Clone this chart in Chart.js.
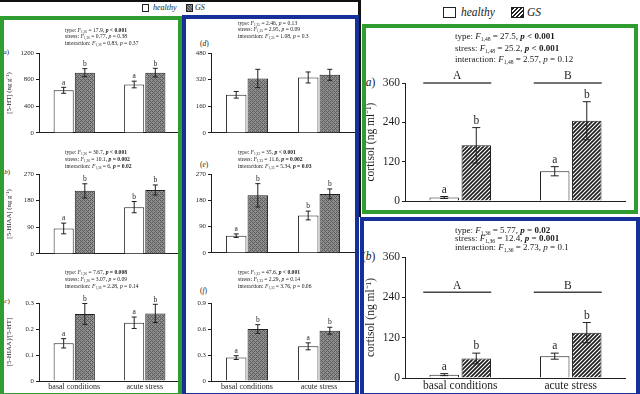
<!DOCTYPE html>
<html>
<head>
<meta charset="utf-8">
<script src="https://cdn.jsdelivr.net/npm/chart.js@4.4.0/dist/chart.umd.min.js"></script>
<style>
  html, body { margin: 0; padding: 0; background: #fff; }
  #fig { position: relative; width: 640px; height: 394px; overflow: hidden; background: #fff;
         font-family: 'Liberation Serif', serif; color: #1a1a1a; }
  .box { position: absolute; box-sizing: border-box; z-index: 3; pointer-events: none; }
  .green { border: 4px solid #2f9d2f; }
  .blue { border: 4px solid #16309a; }
  canvas { position: absolute; z-index: 2; }
  .stats { position: absolute; white-space: nowrap; z-index: 4; }
  .stats sub { font-size: 0.62em; vertical-align: -0.35em; line-height: 0; }
  .lbl { position: absolute; white-space: nowrap; z-index: 1; line-height: 1; }
  .sw { position: absolute; box-sizing: border-box; border: 1px solid #222; }
</style>
</head>
<body>
<div id="fig">
  <div class="box" style="left:0;top:0;width:360px;height:2px;background:#111;"></div>
  <div class="box" style="left:358px;top:0;width:3px;height:217px;background:#111;"></div>
  <div class="box green" style="left:0;top:16px;width:182px;height:381px;"></div>
  <div class="box blue" style="left:182px;top:15px;width:177px;height:382px;"></div>
  <div class="box green" style="left:362px;top:24px;width:276px;height:190px;"></div>
  <div class="box blue" style="left:360px;top:217px;width:280px;height:180px;"></div>

  <!-- legends -->
  <div class="sw" style="left:142px;top:4px;width:7px;height:8px;background:#fff;"></div>
  <div class="lbl" style="left:153px;top:4px;font-size:8px;font-style:italic;">healthy</div>
  <div class="sw" style="left:186px;top:4px;width:7px;height:8px;background:repeating-linear-gradient(45deg,#5e5e5e 0 1px,#9a9a9a 1px 2px);"></div>
  <div class="lbl" style="left:195px;top:4px;font-size:8px;font-style:italic;">GS</div>

  <div class="sw" style="left:443px;top:7px;width:13px;height:11px;background:#fff;"></div>
  <div class="lbl" style="left:461px;top:7px;font-size:11.5px;font-style:italic;">healthy</div>
  <div class="sw" style="left:511px;top:7px;width:13px;height:11px;background:repeating-linear-gradient(135deg,#222 0 1.5px,#fff 1.5px 3px);"></div>
  <div class="lbl" style="left:527px;top:7px;font-size:11.5px;font-style:italic;">GS</div>

  <!-- statistics -->
  <div class="stats" style="left:65px;top:26.6px;font-size:5.6px;line-height:6.7px;">type: <i>F</i><sub>1,36</sub> = 17.9, <b><i>p</i> &lt; 0.001</b><br>stress: <i>F</i><sub>1,36</sub> = 0.77, <i>p</i> = 0.38<br>interaction: <i>F</i><sub>1,36</sub> = 0.83, <i>p</i> = 0.37</div>
  <div class="stats" style="left:65px;top:149.3px;font-size:5.6px;line-height:6.7px;">type: <i>F</i><sub>1,36</sub> = 30.7, <b><i>p</i> &lt; 0.001</b><br>stress: <i>F</i><sub>1,36</sub> = 10.1, <b><i>p</i> = 0.002</b><br>interaction: <i>F</i><sub>1,36</sub> = 6, <b><i>p</i> = 0.02</b></div>
  <div class="stats" style="left:65px;top:269.3px;font-size:5.6px;line-height:6.7px;">type: <i>F</i><sub>1,36</sub> = 7.67, <b><i>p</i> = 0.008</b><br>stress: <i>F</i><sub>1,36</sub> = 3.07, <i>p</i> = 0.09<br>interaction: <i>F</i><sub>1,36</sub> = 2.28, <i>p</i> = 0.14</div>
  <div class="stats" style="left:238px;top:19.5px;font-size:5.6px;line-height:6.7px;">type: <i>F</i><sub>1,35</sub> = 2.46, <i>p</i> = 0.13<br>stress: <i>F</i><sub>1,35</sub> = 2.95, <i>p</i> = 0.09<br>interaction: <i>F</i><sub>1,35</sub> = 1.08, <i>p</i> = 0.3</div>
  <div class="stats" style="left:238px;top:149.3px;font-size:5.6px;line-height:6.7px;">type: <i>F</i><sub>1,33</sub> = 35, <b><i>p</i> &lt; 0.001</b><br>stress: <i>F</i><sub>1,33</sub> = 11.6, <b><i>p</i> = 0.002</b><br>interaction: <i>F</i><sub>1,33</sub> = 5.34, <b><i>p</i> = 0.03</b></div>
  <div class="stats" style="left:238px;top:269.3px;font-size:5.6px;line-height:6.7px;">type: <i>F</i><sub>1,33</sub> = 47.6, <b><i>p</i> &lt; 0.001</b><br>stress: <i>F</i><sub>1,33</sub> = 2.29, <i>p</i> = 0.14<br>interaction: <i>F</i><sub>1,33</sub> = 3.76, <i>p</i> = 0.06</div>
  <div class="stats" style="left:455px;top:31px;font-size:9px;line-height:11.5px;">type: <i>F</i><sub>1,48</sub> = 27.5, <b><i>p</i> &lt; 0.001</b><br>stress: <i>F</i><sub>1,48</sub> = 25.2, <b><i>p</i> &lt; 0.001</b><br>interaction: <i>F</i><sub>1,48</sub> = 2.57, <i>p</i> = 0.12</div>
  <div class="stats" style="left:455px;top:225.8px;font-size:9px;line-height:8.4px;">type: <i>F</i><sub>1,36</sub> = 5.77, <b><i>p</i> = 0.02</b><br>stress: <i>F</i><sub>1,36</sub> = 12.4, <b><i>p</i> = 0.001</b><br>interaction: <i>F</i><sub>1,36</sub> = 2.73, <i>p</i> = 0.1</div>

  <!-- panel letters -->
  <div class="lbl" style="left:1px;top:49px;font-size:7px;">(<i>a</i>)</div>
  <div class="lbl" style="left:2px;top:169px;font-size:7px;">(<i>b</i>)</div>
  <div class="lbl" style="left:2px;top:298px;font-size:7px;">(<i>c</i>)</div>
  <div class="lbl" style="left:200px;top:40px;font-size:7.5px;">(<i>d</i>)</div>
  <div class="lbl" style="left:200px;top:161px;font-size:7.5px;">(<i>e</i>)</div>
  <div class="lbl" style="left:200px;top:287px;font-size:7.5px;">(<i>f</i>)</div>
  <div class="lbl" style="left:362px;top:77px;font-size:11.5px;">(<i>a</i>)</div>
  <div class="lbl" style="left:362px;top:251px;font-size:11.5px;">(<i>b</i>)</div>

  <canvas id="cA"></canvas>
  <canvas id="cB"></canvas>
  <canvas id="cC"></canvas>
  <canvas id="cD"></canvas>
  <canvas id="cE"></canvas>
  <canvas id="cF"></canvas>
  <canvas id="cRA"></canvas>
  <canvas id="cRB"></canvas>
</div>

<script>
const groups = ['basal conditions', 'acute stress'];

// brain serotonin, left (green) column
const htHealthy = [640, 727];
const htHealthyErr = [45, 50];
const htGS = [905, 905];
const htGSErr = [60, 65];

const hiaaHealthy = [86, 158];
const hiaaHealthyErr = [18, 19];
const hiaaGS = [213, 216];
const hiaaGSErr = [24, 17];

const ratioHealthy = [0.145, 0.224];
const ratioHealthyErr = [0.018, 0.022];
const ratioGS = [0.258, 0.26];
const ratioGSErr = [0.04, 0.035];

// second region, middle (blue) column
const dHealthy = [229, 333];
const dHealthyErr = [20, 33];
const dGS = [327, 349];
const dGSErr = [55, 33];

const eHealthy = [59, 128];
const eHealthyErr = [6, 15];
const eGS = [197, 202];
const eGSErr = [40, 17];

const fHealthy = [0.27, 0.4];
const fHealthyErr = [0.022, 0.04];
const fGS = [0.6, 0.58];
const fGSErr = [0.05, 0.04];

// plasma cortisol, right column
const cortAHealthy = [11, 91];
const cortAHealthyErr = [3, 14];
const cortAGS = [170, 245];
const cortAGSErr = [54, 58];

const cortBHealthy = [10, 65];
const cortBHealthyErr = [3, 9];
const cortBGS = [58, 135];
const cortBGSErr = [16, 30];

const letters4 = [['a', 'a'], ['b', 'b']];
const lettersAB = [['a', 'b'], ['b', 'b']];
const noLetters = [['', ''], ['', '']];
const stressGroups = ['A', 'B'];
const stressLevelA = 360;
const stressLevelB = 255;

const ink = '#1f1f1f';
const serif = 'Liberation Serif';

function grayHatch() {
  const c = document.createElement('canvas');
  c.width = c.height = 4;
  const g = c.getContext('2d');
  g.fillStyle = '#8e8e8e';
  g.fillRect(0, 0, 4, 4);
  g.fillStyle = '#5c5c5c';
  [[0, 0], [2, 2], [1, 3], [3, 1], [2, 0], [0, 2]].forEach(([x, y]) => g.fillRect(x, y, 1, 1));
  return g.createPattern(c, 'repeat');
}

function lineHatch() {
  const c = document.createElement('canvas');
  c.width = c.height = 4;
  const g = c.getContext('2d');
  g.fillStyle = '#fff';
  g.fillRect(0, 0, 4, 4);
  g.strokeStyle = '#1e1e1e';
  g.lineWidth = 1.7;
  g.beginPath();
  g.moveTo(-1, 5); g.lineTo(5, -1);
  g.moveTo(-1, 1); g.lineTo(1, -1);
  g.moveTo(3, 5); g.lineTo(5, 3);
  g.stroke();
  return g.createPattern(c, 'repeat');
}

// error bars, significance letters and the A / B group marks
const errorBars = {
  id: 'errorBars',
  afterDatasetsDraw(chart, args, opts) {
    const { ctx, scales: { x, y } } = chart;
    ctx.save();
    ctx.strokeStyle = ink;
    ctx.fillStyle = ink;
    ctx.lineWidth = 1;
    ctx.textAlign = 'center';
    ctx.textBaseline = 'bottom';
    ctx.font = `${opts.letterSize}px ${serif}`;
    chart.data.datasets.forEach((ds, i) => {
      chart.getDatasetMeta(i).data.forEach((bar, j) => {
        const v = ds.data[j];
        const e = ds.errors[j];
        const top = y.getPixelForValue(v + e);
        const bot = y.getPixelForValue(Math.max(v - e, 0));
        ctx.beginPath();
        ctx.moveTo(bar.x, top); ctx.lineTo(bar.x, bot);
        ctx.moveTo(bar.x - opts.cap, top); ctx.lineTo(bar.x + opts.cap, top);
        ctx.moveTo(bar.x - opts.cap, bot); ctx.lineTo(bar.x + opts.cap, bot);
        ctx.stroke();
        if (ds.letters[j]) ctx.fillText(ds.letters[j], bar.x, top - 1);
      });
    });
    if (opts.marks) {
      ctx.lineWidth = 1.6;
      ctx.strokeStyle = '#444';
      const ly = y.getPixelForValue(opts.marks.level);
      opts.marks.labels.forEach((t, j) => {
        const cx = x.getPixelForValue(j);
        ctx.beginPath();
        ctx.moveTo(cx - 37, ly); ctx.lineTo(cx + 31, ly);
        ctx.stroke();
        ctx.fillText(t, cx - 3, ly - 1);
      });
    }
    ctx.restore();
  },
};

function panel(id, place, p) {
  const canvas = document.getElementById(id);
  canvas.width = place.w;
  canvas.height = place.h;
  canvas.style.left = place.x + 'px';
  canvas.style.top = place.y + 'px';
  const tickFont = { family: serif, size: p.fontSize };
  return new Chart(canvas, {
    type: 'bar',
    data: {
      labels: groups,
      datasets: [
        { label: 'healthy', data: p.healthy, errors: p.healthyErr, letters: p.letters[0],
          backgroundColor: '#fff', borderColor: ink, borderWidth: 1 },
        { label: 'GS', data: p.gs, errors: p.gsErr, letters: p.letters[1],
          backgroundColor: p.fill, borderColor: ink, borderWidth: 1 },
      ],
    },
    options: {
      responsive: false,
      animation: false,
      categoryPercentage: p.catPct,
      barPercentage: p.barPct,
      layout: { padding: { top: place.padTop, right: 0, bottom: 0, left: 0 } },
      plugins: {
        legend: { display: false },
        tooltip: { enabled: false },
        errorBars: { cap: p.cap, letterSize: p.letterSize, marks: p.marks },
      },
      scales: {
        x: {
          grid: { display: false, drawTicks: false },
          border: { display: true, color: ink, width: 1 },
          ticks: { display: !!p.showX, font: { family: serif, size: p.xFontSize }, color: ink,
                   padding: p.xPad, maxRotation: 0, autoSkip: false },
          afterFit: (s) => { s.height = place.xHeight; },
        },
        y: {
          min: 0,
          max: p.max,
          ticks: { stepSize: p.step, font: tickFont, color: ink, padding: 2,
                   callback: (v) => String(Math.round(v * 100) / 100) },
          grid: { drawOnChartArea: false, drawTicks: true, tickLength: 3, color: ink },
          border: { color: ink, width: 1 },
          title: { display: !!p.yTitle, text: p.yTitle, font: { family: serif, size: p.titleSize || p.fontSize },
                   color: ink, padding: { top: 1, bottom: 0 } },
          afterFit: (s) => { s.width = place.yWidth; },
        },
      },
    },
    plugins: [errorBars],
  });
}

const gray = grayHatch();
const lines = lineHatch();
const small = { fontSize: 6.8, xFontSize: 8, letterSize: 7.5, cap: 2.5, catPct: 0.6, barPct: 0.95, fill: gray, xPad: 1 };
const big = { fontSize: 11.5, xFontSize: 11.5, letterSize: 11.5, cap: 4, catPct: 0.58, barPct: 0.92, fill: lines, xPad: 1 };

panel('cA', { x: 4, y: 41, w: 176, h: 98, yWidth: 35, padTop: 12, xHeight: 4 },
  { ...small, healthy: htHealthy, healthyErr: htHealthyErr, gs: htGS, gsErr: htGSErr, letters: letters4,
    max: 1200, step: 400, yTitle: '[5-HT] (ng g⁻¹)' });
panel('cB', { x: 4, y: 162, w: 176, h: 98, yWidth: 35, padTop: 12, xHeight: 4 },
  { ...small, healthy: hiaaHealthy, healthyErr: hiaaHealthyErr, gs: hiaaGS, gsErr: hiaaGSErr, letters: lettersAB,
    max: 270, step: 90, yTitle: '[5-HIAA] (ng g⁻¹)' });
panel('cC', { x: 4, y: 291, w: 176, h: 102, yWidth: 35, padTop: 12, xHeight: 12 },
  { ...small, healthy: ratioHealthy, healthyErr: ratioHealthyErr, gs: ratioGS, gsErr: ratioGSErr, letters: letters4,
    max: 0.3, step: 0.1, yTitle: '[5-HIAA]/[5-HT]', showX: true });
panel('cD', { x: 186, y: 41, w: 169, h: 98, yWidth: 25, padTop: 12, xHeight: 4 },
  { ...small, healthy: dHealthy, healthyErr: dHealthyErr, gs: dGS, gsErr: dGSErr, letters: noLetters,
    max: 480, step: 160 });
panel('cE', { x: 186, y: 162, w: 169, h: 97, yWidth: 25, padTop: 12, xHeight: 4 },
  { ...small, healthy: eHealthy, healthyErr: eHealthyErr, gs: eGS, gsErr: eGSErr, letters: lettersAB,
    max: 270, step: 90 });
panel('cF', { x: 186, y: 291, w: 169, h: 102, yWidth: 25, padTop: 12, xHeight: 12 },
  { ...small, healthy: fHealthy, healthyErr: fHealthyErr, gs: fGS, gsErr: fGSErr, letters: letters4,
    max: 0.9, step: 0.3, showX: true });
panel('cRA', { x: 363, y: 67, w: 263, h: 143, yWidth: 42, padTop: 16, xHeight: 4 },
  { ...big, healthy: cortAHealthy, healthyErr: cortAHealthyErr, gs: cortAGS, gsErr: cortAGSErr, letters: letters4,
    max: 360, step: 120, yTitle: 'cortisol (ng ml⁻¹)', marks: { labels: stressGroups, level: stressLevelA } });
panel('cRB', { x: 363, y: 241, w: 263, h: 153, yWidth: 42, padTop: 16, xHeight: 16 },
  { ...big, healthy: cortBHealthy, healthyErr: cortBHealthyErr, gs: cortBGS, gsErr: cortBGSErr, letters: letters4,
    max: 360, step: 120, yTitle: 'cortisol (ng ml⁻¹)', showX: true, marks: { labels: stressGroups, level: stressLevelB } });
</script>
</body>
</html>
